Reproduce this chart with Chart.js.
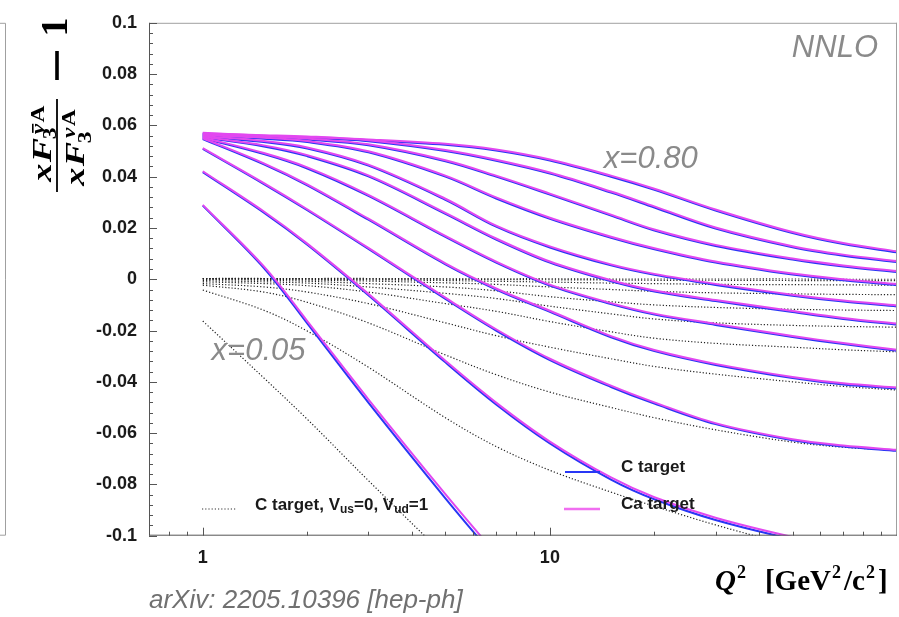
<!DOCTYPE html>
<html>
<head>
<meta charset="utf-8">
<script src="https://cdn.jsdelivr.net/npm/chart.js@4/dist/chart.umd.min.js"></script>
<style>
  html, body { margin: 0; padding: 0; background: #fff; }
  #chart { display: block; }
</style>
</head>
<body>
<canvas id="chart" width="899" height="617" style="width:899px;height:617px"></canvas>
<script>
// Q^2 sample points (GeV^2/c^2), shared by every curve
const Q2 = [1, 1.5, 2, 3, 5, 7, 10, 15, 20, 30, 50, 70, 100];

// one row per x value, from x=0.05 (steepest) up to x=0.80 (top)
const cTarget = [
  [0.0287, 0.0044, -0.0172, -0.0481, -0.0854, -0.1090, null, null, null, null, null, null, null],
  [0.0418, 0.0260, 0.0135, -0.0062, -0.0324, -0.0488, -0.0640, -0.0781, -0.0858, -0.0939, -0.1014, -0.1052, -0.1083],
  [0.0508, 0.0371, 0.0269, 0.0118, -0.0077, -0.0200, -0.0315, -0.0420, -0.0485, -0.0565, -0.0628, -0.0652, -0.0669],
  [0.0547, 0.0448, 0.0366, 0.0232, 0.0058, -0.0040, -0.0127, -0.0226, -0.0280, -0.0334, -0.0385, -0.0410, -0.0426],
  [0.0550, 0.0488, 0.0432, 0.0325, 0.0165, 0.0065, -0.0025, -0.0097, -0.0138, -0.0178, -0.0225, -0.0253, -0.0279],
  [0.0553, 0.0518, 0.0480, 0.0401, 0.0255, 0.0155, 0.0065, -0.0008, -0.0048, -0.0085, -0.0128, -0.0155, -0.0177],
  [0.0556, 0.0535, 0.0510, 0.0443, 0.0310, 0.0205, 0.0124, 0.0054, 0.0017, -0.0022, -0.0064, -0.0087, -0.0106],
  [0.0559, 0.0548, 0.0535, 0.0495, 0.0400, 0.0315, 0.0236, 0.0162, 0.0117, 0.0065, 0.0018, -0.0004, -0.0023],
  [0.0562, 0.0554, 0.0545, 0.0522, 0.0460, 0.0400, 0.0330, 0.0248, 0.0190, 0.0130, 0.0077, 0.0050, 0.0028],
  [0.0565, 0.0558, 0.0553, 0.0538, 0.0500, 0.0462, 0.0412, 0.0338, 0.0280, 0.0198, 0.0125, 0.0092, 0.0067],
  [0.0568, 0.0556, 0.0550, 0.0541, 0.0524, 0.0502, 0.0463, 0.0400, 0.0349, 0.0268, 0.0180, 0.0137, 0.0105]
];

const caTarget = [
  [0.0290, 0.0050, -0.0163, -0.0468, -0.0838, -0.1072, null, null, null, null, null, null, null],
  [0.0421, 0.0264, 0.0139, -0.0057, -0.0318, -0.0481, -0.0633, -0.0773, -0.0850, -0.0930, -0.1005, -0.1043, -0.1074],
  [0.0511, 0.0375, 0.0273, 0.0122, -0.0072, -0.0195, -0.0310, -0.0415, -0.0480, -0.0561, -0.0624, -0.0648, -0.0665],
  [0.0550, 0.0452, 0.0370, 0.0236, 0.0062, -0.0036, -0.0123, -0.0222, -0.0276, -0.0330, -0.0381, -0.0406, -0.0422],
  [0.0553, 0.0492, 0.0436, 0.0329, 0.0169, 0.0069, -0.0021, -0.0093, -0.0134, -0.0174, -0.0221, -0.0249, -0.0275],
  [0.0556, 0.0522, 0.0484, 0.0405, 0.0259, 0.0159, 0.0069, -0.0004, -0.0044, -0.0081, -0.0124, -0.0151, -0.0173],
  [0.0559, 0.0539, 0.0514, 0.0447, 0.0314, 0.0209, 0.0128, 0.0058, 0.0021, -0.0018, -0.0060, -0.0083, -0.0102],
  [0.0562, 0.0552, 0.0539, 0.0499, 0.0404, 0.0319, 0.0240, 0.0166, 0.0121, 0.0069, 0.0022, 0.0000, -0.0019],
  [0.0565, 0.0558, 0.0549, 0.0526, 0.0464, 0.0404, 0.0334, 0.0252, 0.0194, 0.0134, 0.0081, 0.0054, 0.0032],
  [0.0568, 0.0562, 0.0557, 0.0542, 0.0504, 0.0466, 0.0416, 0.0342, 0.0284, 0.0202, 0.0129, 0.0096, 0.0071],
  [0.0571, 0.0560, 0.0554, 0.0545, 0.0528, 0.0506, 0.0467, 0.0404, 0.0353, 0.0272, 0.0184, 0.0141, 0.0109]
];

// C target with V_us = 0, V_ud = 1 (dotted)
const cTargetVus0 = [
  [-0.0163, -0.0385, -0.0546, -0.0785, -0.1080, null, null, null, null, null, null, null, null],
  [-0.0042, -0.0121, -0.0202, -0.0343, -0.0540, -0.0652, -0.0745, -0.0830, -0.0885, -0.0958, -0.1040, null, null],
  [-0.0023, -0.0050, -0.0090, -0.0170, -0.0295, -0.0372, -0.0440, -0.0500, -0.0540, -0.0587, -0.0635, -0.0655, -0.0667],
  [-0.0017, -0.0030, -0.0050, -0.0095, -0.0170, -0.0220, -0.0265, -0.0310, -0.0340, -0.0370, -0.0400, -0.0418, -0.0432],
  [-0.0010, -0.0017, -0.0025, -0.0050, -0.0095, -0.0125, -0.0165, -0.0205, -0.0230, -0.0250, -0.0265, -0.0275, -0.0283],
  [-0.0005, -0.0010, -0.0015, -0.0030, -0.0055, -0.0075, -0.0105, -0.0135, -0.0155, -0.0170, -0.0180, -0.0184, -0.0187],
  [0.0000, -0.0004, -0.0008, -0.0017, -0.0030, -0.0045, -0.0068, -0.0088, -0.0100, -0.0110, -0.0117, -0.0120, -0.0122],
  [0.0002, 0.0000, -0.0003, -0.0007, -0.0014, -0.0020, -0.0030, -0.0040, -0.0047, -0.0053, -0.0057, -0.0059, -0.0060],
  [0.0002, 0.0001, 0.0000, -0.0002, -0.0005, -0.0008, -0.0011, -0.0015, -0.0017, -0.0020, -0.0021, -0.0022, -0.0023],
  [0.0003, 0.0003, 0.0002, 0.0001, 0.0000, -0.0001, -0.0002, -0.0003, -0.0004, -0.0004, -0.0005, -0.0005, -0.0005],
  [0.0003, 0.0003, 0.0003, 0.0003, 0.0002, 0.0002, 0.0002, 0.0001, 0.0001, 0.0001, 0.0001, 0.0000, 0.0000]
];

// axis ticks
const xMajorTicks = [1, 10];
const xMinorTicks = [0.8, 0.9, 2, 3, 4, 5, 6, 7, 8, 9, 20, 30, 40, 50, 60, 70, 80, 90];
const yMajorTicks = [0.1, 0.08, 0.06, 0.04, 0.02, 0, -0.02, -0.04, -0.06, -0.08, -0.1];

const BLUE = "rgb(40, 55, 245)";
const MAGENTA = "rgb(226, 72, 240)";
const GREY_TEXT = "#8a8a8a";

function toPoints(row) {
    // pair each value with its Q^2, drop the missing ones
    const pts = [];
    for (let i = 0; i < Q2.length; i++) {
        if (row[i] !== null) pts.push({ x: Q2[i], y: row[i] });
    }
    return pts;
}

const datasets = [];
caTarget.forEach(row => datasets.push({
    label: "Ca target", data: toPoints(row), borderColor: MAGENTA, borderWidth: 2,
    pointRadius: 0, tension: 0.35, fill: false, order: 1
}));
cTarget.forEach(row => datasets.push({
    label: "C target", data: toPoints(row), borderColor: BLUE, borderWidth: 2,
    pointRadius: 0, tension: 0.35, fill: false, order: 2
}));
cTargetVus0.forEach(row => datasets.push({
    label: "C target, Vus=0, Vud=1", data: toPoints(row), borderColor: "#222", borderWidth: 1.2,
    borderDash: [1.2, 2], pointRadius: 0, tension: 0.35, fill: false, order: 3
}));

function fmtY(v) {
    return String(Number(v.toFixed(2)));
}

// x F_3^{nu A} for the y title, drawn in the rotated frame; returns its width
function drawXF(ctx, u, v, withBar, supUp, subDown, measureOnly) {
    const big = 'bold italic 28px "Liberation Serif"';
    const small = 'bold italic 18px "Liberation Serif"';
    const smallUp = 'bold 18px "Liberation Serif"';
    ctx.font = big;
    const wx = ctx.measureText("x").width;
    const wF = ctx.measureText("F").width;
    ctx.font = small;
    const wNu = ctx.measureText("\u03bd").width;
    ctx.font = smallUp;
    const wA = ctx.measureText("A").width;
    const w3 = ctx.measureText("3").width;
    const total = wx + 1 + wF + 2 + Math.max(wNu + wA + 2, w3);
    if (measureOnly) return total;
    let p = u;
    ctx.font = big;
    ctx.fillText("x", p, v); p += wx + 1;
    ctx.fillText("F", p, v); p += wF + 2;
    ctx.font = small;
    ctx.fillText("\u03bd", p + 1, v - supUp);
    if (withBar) {
        ctx.fillRect(p + 2, v - supUp - 12, wNu - 1, 1.6);
    }
    ctx.font = smallUp;
    ctx.fillText("A", p + wNu + 2, v - supUp);
    ctx.fillText("3", p - 3, v + subDown);
    return total;
}

const decorPlugin = {
    id: "decor",
    afterDatasetsDraw(chart) {
        const ctx = chart.ctx;
        const a = chart.chartArea;
        const xs = chart.scales.x;
        const ys = chart.scales.y;
        ctx.save();

        // frame
        ctx.lineWidth = 1;
        ctx.strokeStyle = "#a0a0a0";
        ctx.beginPath();
        ctx.moveTo(a.left, a.top + 0.5); ctx.lineTo(a.right, a.top + 0.5);
        ctx.moveTo(a.right - 0.5, a.top); ctx.lineTo(a.right - 0.5, a.bottom);
        ctx.stroke();
        ctx.strokeStyle = "#555";
        ctx.beginPath();
        ctx.moveTo(a.left + 0.5, a.top); ctx.lineTo(a.left + 0.5, a.bottom);
        ctx.moveTo(a.left, a.bottom - 0.5); ctx.lineTo(a.right, a.bottom - 0.5);
        ctx.stroke();

        // ticks, drawn inwards
        ctx.beginPath();
        for (let k = -25; k <= 25; k++) {
            const v = k * 0.004;
            const y = Math.round(ys.getPixelForValue(v)) + 0.5;
            const len = (k % 5 === 0) ? 8 : 4;
            ctx.moveTo(a.left, y); ctx.lineTo(a.left + len, y);
        }
        xMajorTicks.forEach(q => {
            const x = Math.round(xs.getPixelForValue(q)) + 0.5;
            ctx.moveTo(x, a.bottom); ctx.lineTo(x, a.bottom - 8);
        });
        xMinorTicks.forEach(q => {
            const x = Math.round(xs.getPixelForValue(q)) + 0.5;
            ctx.moveTo(x, a.bottom); ctx.lineTo(x, a.bottom - 4);
        });
        ctx.stroke();

        // piece of the neighbouring panel at the far left
        ctx.strokeStyle = "#a0a0a0";
        ctx.beginPath();
        ctx.moveTo(0, a.top + 0.5); ctx.lineTo(5.5, a.top + 0.5); ctx.lineTo(5.5, a.bottom - 0.5); ctx.lineTo(0, a.bottom - 0.5);
        ctx.stroke();

        // in-plot labels
        ctx.fillStyle = GREY_TEXT;
        ctx.font = 'italic 31px "Liberation Sans"';
        ctx.textAlign = "right";
        ctx.textBaseline = "alphabetic";
        ctx.fillText("NNLO", 878, 57);
        ctx.textAlign = "left";
        ctx.fillText("x=0.80", xs.getPixelForValue(14.3), ys.getPixelForValue(0.0433));
        ctx.fillText("x=0.05", xs.getPixelForValue(1.06), ys.getPixelForValue(-0.0315));

        // legends
        ctx.fillStyle = "#1a1a1a";
        ctx.font = 'bold 17px "Liberation Sans"';
        ctx.strokeStyle = BLUE;
        ctx.lineWidth = 2;
        ctx.beginPath(); ctx.moveTo(565, 472); ctx.lineTo(600, 472); ctx.stroke();
        ctx.fillText("C target", 621, 472);
        ctx.strokeStyle = "rgb(240, 110, 240)";
        ctx.lineWidth = 2.5;
        ctx.beginPath(); ctx.moveTo(564, 509); ctx.lineTo(600, 509); ctx.stroke();
        ctx.fillText("Ca target", 621, 509);

        ctx.strokeStyle = "#333";
        ctx.lineWidth = 1.2;
        ctx.setLineDash([1.2, 2]);
        ctx.beginPath(); ctx.moveTo(202, 509); ctx.lineTo(237, 509); ctx.stroke();
        ctx.setLineDash([]);
        let px = 255;
        const parts = [["C target, V", 0], ["us", 1], ["=0, V", 0], ["ud", 1], ["=1", 0]];
        parts.forEach(([t, sub]) => {
            ctx.font = sub ? 'bold 12px "Liberation Sans"' : 'bold 17px "Liberation Sans"';
            ctx.fillText(t, px, sub ? 513 : 510);
            px += ctx.measureText(t).width;
        });

        // x axis title: Q^2 [GeV^2/c^2]
        ctx.fillStyle = "#000";
        const ty = 590;
        const seg = [
            ['bold italic 29px "Liberation Serif"', "Q", 0, 1],
            ['bold 18px "Liberation Serif"', "2", -12, 19],
            ['bold 29px "Liberation Serif"', "[GeV", 0, 1],
            ['bold 18px "Liberation Serif"', "2", -12, 3],
            ['bold 29px "Liberation Serif"', "/c", 0, 1],
            ['bold 18px "Liberation Serif"', "2", -12, 3],
            ['bold 29px "Liberation Serif"', "]", 0, 0]
        ];
        let tx = 715;
        seg.forEach(([f, t, dy, gap]) => {
            ctx.font = f;
            ctx.fillText(t, tx, ty + dy);
            tx += ctx.measureText(t).width + gap;
        });

        // y axis title, rotated: xF3(nubar A) / xF3(nu A) - 1
        ctx.save();
        ctx.translate(57, 145);
        ctx.rotate(-Math.PI / 2);
        ctx.fillStyle = "#000";
        ctx.save();
        ctx.scale(1.3, 1);
        const wNum = drawXF(ctx, 0, 0, true, 0, 0, true);
        drawXF(ctx, -wNum / 2 + 1, -6, true, 7, 5, false);
        const wDen = drawXF(ctx, 0, 0, false, 0, 0, true);
        drawXF(ctx, -wDen / 2 - 2, 27, false, 9, 7, false);
        ctx.restore();
        ctx.fillRect(-47, -0.9, 93, 1.8);
        ctx.fillRect(65, -1.8, 29, 3.6);
        ctx.font = 'bold 38px "Liberation Serif"';
        ctx.textAlign = "center";
        ctx.fillText("1", 118, 10);
        ctx.restore();

        // source line
        ctx.fillStyle = "#707070";
        ctx.font = 'italic 26px "Liberation Sans"';
        ctx.textAlign = "left";
        ctx.fillText("arXiv: 2205.10396 [hep-ph]", 149, 608);

        ctx.restore();
    }
};

const tickFont = { family: "Liberation Sans", size: 18, weight: "bold" };

new Chart(document.getElementById("chart"), {
    type: "line",
    data: { datasets: datasets },
    options: {
        responsive: false,
        animation: false,
        events: [],
        layout: { padding: { left: 0, right: 2, top: 14.5, bottom: 0 } },
        plugins: { legend: { display: false }, tooltip: { enabled: false } },
        scales: {
            x: {
                type: "logarithmic",
                min: 0.7,
                max: 100,
                afterFit(s) { s.height = 81.3; },
                afterBuildTicks(s) { s.ticks = xMajorTicks.map(v => ({ value: v })); },
                grid: { display: false, drawTicks: false },
                border: { display: false },
                ticks: {
                    autoSkip: false, maxRotation: 0, padding: 12, color: "#1a1a1a", font: tickFont,
                    callback: v => String(v)
                }
            },
            y: {
                type: "linear",
                min: -0.1,
                max: 0.1,
                afterFit(s) { s.width = 149; },
                afterBuildTicks(s) { s.ticks = yMajorTicks.map(v => ({ value: v })); },
                grid: { display: false, drawTicks: false },
                border: { display: false },
                ticks: { padding: 12, color: "#1a1a1a", font: tickFont, callback: v => fmtY(v) }
            }
        }
    },
    plugins: [decorPlugin]
});
</script>
</body>
</html>
